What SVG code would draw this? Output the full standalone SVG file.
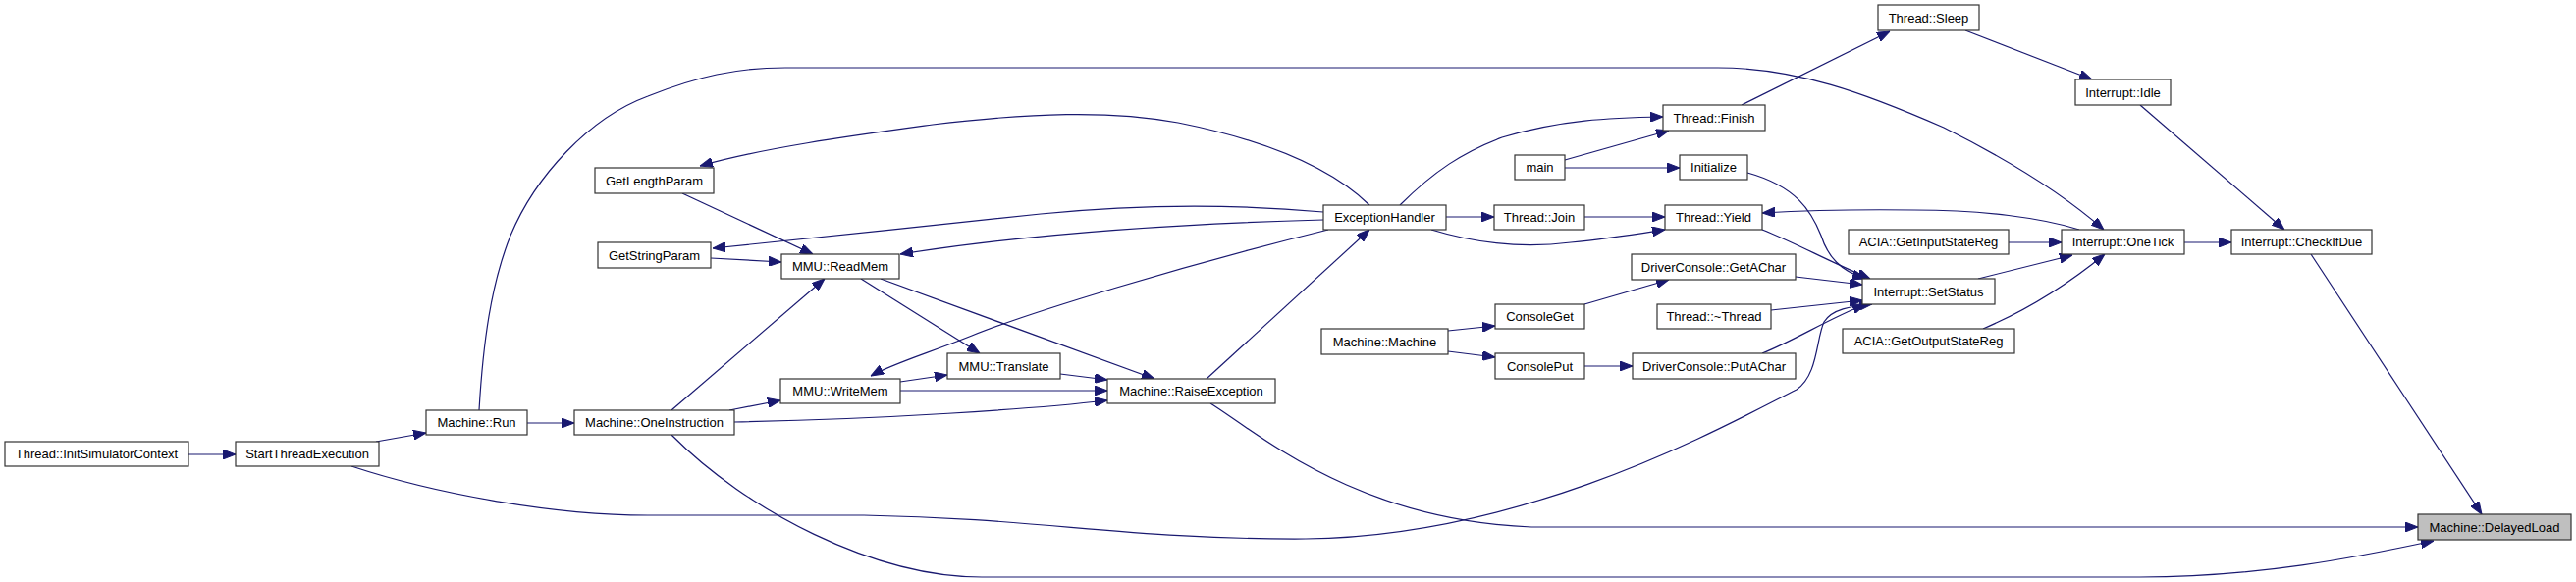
<svg xmlns="http://www.w3.org/2000/svg" width="2624" height="593" viewBox="0 0 2624 593">
<style>
.n rect{fill:#fff;stroke:#333;stroke-width:1.2}
.n text{font-family:"Liberation Sans",Arial,sans-serif;font-size:13px;fill:#000;text-anchor:middle}
.e path{fill:none;stroke:#191970;stroke-width:1.2;marker-end:url(#ah)}
</style>
<defs>
<marker id="ah" markerUnits="userSpaceOnUse" viewBox="0 0 13 10" refX="13" refY="5" markerWidth="13" markerHeight="10" orient="auto">
<path d="M0,0 L13,5 L0,10 z" fill="#191970" stroke="#191970" stroke-width="1"/>
</marker>
</defs>
<rect width="2624" height="593" fill="#fff"/>
<g id="edges" class="e">
<path d="M192,463 L240,463"/>
<path d="M383,450 L434,441"/>
<path d="M358,475 C440,502 560,525 660,525 L880,525 C1060,528 1150,550 1330,549 C1560,546 1760,432 1830,397 C1852,382 1850,345 1858,328 C1866,315 1885,312 1907,310"/>
<path d="M537,431 L585,431"/>
<path d="M488,418 C492,350 500,290 520,240 C545,180 600,120 660,98 C710,78 750,69 800,69 L1750,69 C1830,69 1900,95 1980,130 C2060,170 2110,205 2143,234"/>
<path d="M684,418 L840,284"/>
<path d="M743,418 L795,408"/>
<path d="M748,430 C900,427 1050,417 1128,408"/>
<path d="M684,443 C760,520 890,588 1000,588 L2180,588 C2300,588 2400,568 2479,551"/>
<path d="M695,197 L828,259"/>
<path d="M724,263 L796,267"/>
<path d="M877,284 L998,360"/>
<path d="M897,284 L1176,386"/>
<path d="M917,389 L965,382"/>
<path d="M917,398 L1128,398"/>
<path d="M1080,381 L1128,387"/>
<path d="M1229,386 L1395,234"/>
<path d="M1233,411 C1280,440 1380,530 1560,537 L2463,537"/>
<path d="M1395,209 C1360,175 1300,145 1200,125 C1130,112 1050,115 950,127 C870,138 780,150 713,169"/>
<path d="M1348,216 C1260,208 1160,208 1060,218 C960,228 820,244 726,253"/>
<path d="M1348,224 C1200,228 1050,238 917,259"/>
<path d="M1353,234 C1200,272 1050,318 990,342 C945,360 910,370 887,383"/>
<path d="M1426,209 C1460,175 1490,155 1530,140 C1590,122 1640,120 1694,119"/>
<path d="M1473,221 L1522,221"/>
<path d="M1458,234 C1510,250 1560,252 1600,247 C1640,243 1670,238 1696,234"/>
<path d="M1594,163 L1700,133"/>
<path d="M1594,171 L1711,171"/>
<path d="M1780,176 C1830,190 1845,215 1855,240 C1862,262 1875,276 1900,284"/>
<path d="M1614,221 L1696,221"/>
<path d="M1774,107 L1925,32"/>
<path d="M2002,31 L2131,81"/>
<path d="M2180,107 L2327,234"/>
<path d="M2118,234 C2080,222 2020,214 1950,214 C1880,213 1830,215 1795,217"/>
<path d="M1795,234 C1830,248 1860,265 1905,284"/>
<path d="M1475,337 L1523,332"/>
<path d="M1475,358 L1523,364"/>
<path d="M1614,310 L1700,285"/>
<path d="M1614,373 L1663,373"/>
<path d="M1829,282 L1897,290"/>
<path d="M1804,316 L1897,306"/>
<path d="M1795,360 C1830,346 1860,326 1900,310"/>
<path d="M2015,284 L2111,260"/>
<path d="M2046,247 L2100,247"/>
<path d="M2020,335 C2060,318 2100,295 2144,259"/>
<path d="M2225,247 L2273,247"/>
<path d="M2354,259 L2528,524"/>
</g>
<g id="n1" class="n"><rect x="5" y="450" width="187" height="25"/><text x="98.5" y="467">Thread::InitSimulatorContext</text></g>
<g id="n2" class="n"><rect x="240" y="450" width="146" height="25"/><text x="313" y="467">StartThreadExecution</text></g>
<g id="n3" class="n"><rect x="434" y="418" width="103" height="25"/><text x="485.5" y="435">Machine::Run</text></g>
<g id="n4" class="n"><rect x="585" y="418" width="163" height="25"/><text x="666.5" y="435">Machine::OneInstruction</text></g>
<g id="n5" class="n"><rect x="606" y="171" width="121" height="26"/><text x="666.5" y="188.5">GetLengthParam</text></g>
<g id="n6" class="n"><rect x="609" y="247" width="115" height="26"/><text x="666.5" y="264.5">GetStringParam</text></g>
<g id="n7" class="n"><rect x="796" y="259" width="120" height="25"/><text x="856" y="276">MMU::ReadMem</text></g>
<g id="n8" class="n"><rect x="795" y="386" width="122" height="25"/><text x="856" y="403">MMU::WriteMem</text></g>
<g id="n9" class="n"><rect x="965" y="360" width="115" height="26"/><text x="1022.5" y="377.5">MMU::Translate</text></g>
<g id="n10" class="n"><rect x="1128" y="386" width="171" height="25"/><text x="1213.5" y="403">Machine::RaiseException</text></g>
<g id="n11" class="n"><rect x="1348" y="209" width="125" height="25"/><text x="1410.5" y="226">ExceptionHandler</text></g>
<g id="n12" class="n"><rect x="1522" y="209" width="92" height="25"/><text x="1568" y="226">Thread::Join</text></g>
<g id="n13" class="n"><rect x="1543" y="158" width="51" height="25"/><text x="1568.5" y="175">main</text></g>
<g id="n14" class="n"><rect x="1694" y="107" width="104" height="26"/><text x="1746" y="124.5">Thread::Finish</text></g>
<g id="n15" class="n"><rect x="1711" y="158" width="69" height="25"/><text x="1745.5" y="175">Initialize</text></g>
<g id="n16" class="n"><rect x="1696" y="209" width="99" height="25"/><text x="1745.5" y="226">Thread::Yield</text></g>
<g id="n17" class="n"><rect x="1913" y="5" width="103" height="26"/><text x="1964.5" y="22.5">Thread::Sleep</text></g>
<g id="n18" class="n"><rect x="2114" y="81" width="97" height="26"/><text x="2162.5" y="98.5">Interrupt::Idle</text></g>
<g id="n19" class="n"><rect x="1883" y="234" width="163" height="25"/><text x="1964.5" y="251">ACIA::GetInputStateReg</text></g>
<g id="n20" class="n"><rect x="1897" y="284" width="135" height="26"/><text x="1964.5" y="301.5">Interrupt::SetStatus</text></g>
<g id="n21" class="n"><rect x="1877" y="335" width="175" height="25"/><text x="1964.5" y="352">ACIA::GetOutputStateReg</text></g>
<g id="n22" class="n"><rect x="1662" y="259" width="167" height="26"/><text x="1745.5" y="276.5">DriverConsole::GetAChar</text></g>
<g id="n23" class="n"><rect x="1663" y="360" width="166" height="26"/><text x="1746" y="377.5">DriverConsole::PutAChar</text></g>
<g id="n24" class="n"><rect x="1688" y="310" width="116" height="25"/><text x="1746" y="327">Thread::~Thread</text></g>
<g id="n25" class="n"><rect x="1523" y="310" width="91" height="25"/><text x="1568.5" y="327">ConsoleGet</text></g>
<g id="n26" class="n"><rect x="1523" y="360" width="91" height="26"/><text x="1568.5" y="377.5">ConsolePut</text></g>
<g id="n27" class="n"><rect x="1346" y="335" width="129" height="26"/><text x="1410.5" y="352.5">Machine::Machine</text></g>
<g id="n28" class="n"><rect x="2100" y="234" width="125" height="25"/><text x="2162.5" y="251">Interrupt::OneTick</text></g>
<g id="n29" class="n"><rect x="2273" y="234" width="143" height="25"/><text x="2344.5" y="251">Interrupt::CheckIfDue</text></g>
<g id="n30" class="n"><rect x="2463" y="524" width="156" height="26" style="fill:#bfbfbf"/><text x="2541" y="541.5">Machine::DelayedLoad</text></g>
</svg>
